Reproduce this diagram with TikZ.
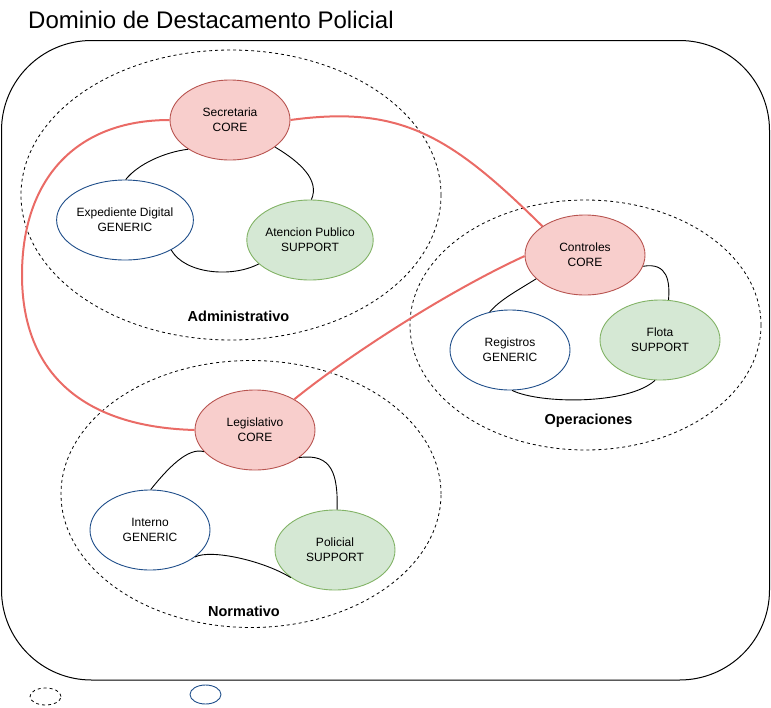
\documentclass[tikz,border=0pt]{standalone}
\usepackage{fontspec}
\setmainfont{Liberation Sans}
\usetikzlibrary{shapes.geometric}
\definecolor{corefill}{HTML}{F8CECC}
\definecolor{coredraw}{HTML}{B85450}
\definecolor{supfill}{HTML}{D5E8D4}
\definecolor{supdraw}{HTML}{82B366}
\definecolor{gendraw}{HTML}{1F4E8A}
\definecolor{redline}{HTML}{EA6B66}
\tikzset{
  bc/.style={ellipse, inner sep=0pt, minimum width=120pt, minimum height=80pt, align=center,
    font=\fontsize{12}{14.6}\selectfont, line width=0.9pt},
  corebc/.style={bc, draw=coredraw, fill=corefill},
  supbc/.style={bc, draw=supdraw, fill=supfill},
  genbc/.style={bc, draw=gendraw, fill=white},
  grp/.style={ellipse, draw=black, line width=0.8pt, dash pattern=on 3pt off 3pt, inner sep=0pt},
  grplbl/.style={font=\bfseries\fontsize{14.5}{17}\selectfont},
  rel/.style={draw=black, line width=0.9pt},
  ctx/.style={draw=redline, line width=2pt},
}
\begin{document}
\begin{tikzpicture}[x=1pt,y=-1pt]
\useasboundingbox (0,0) rectangle (771,707);
% domain container
\node[draw=black, line width=1pt, rounded corners=90pt, minimum width=768pt, minimum height=639.5pt, inner sep=0pt] (dom) at (385.5,360.25) {};
\node[anchor=base west, font=\fontsize{24}{28}\selectfont, inner sep=0pt] (title) at (28,28) {Dominio de Destacamento Policial};
% groups
\node[grp, minimum width=420pt, minimum height=290pt] (adm) at (231,195) {};
\node[grp, minimum width=351pt, minimum height=250pt] (ope) at (585.5,325) {};
\node[grp, minimum width=380pt, minimum height=267pt] (nor) at (251,494) {};
\node[grplbl] (admlbl) at (238.5,316) {Administrativo};
\node[grplbl] (opelbl) at (588.5,421) {Operaciones};
\node[grplbl] (norlbl) at (244,611) {Normativo};
% bounded contexts
\node[corebc] (sec) at (230,120) {Secretaria\\CORE};
\node[genbc] (exp) at (125,220) {Expediente Digital\\GENERIC};
\node[supbc] (ate) at (310,240) {Atencion Publico\\SUPPORT};
\node[corebc] (con) at (585,255) {Controles\\CORE};
\node[genbc] (reg) at (510,350) {Registros\\GENERIC};
\node[supbc] (flo) at (660,340) {Flota\\SUPPORT};
\node[corebc] (leg) at (255,430) {Legislativo\\CORE};
\node[genbc] (int) at (150,530) {Interno\\GENERIC};
\node[supbc] (pol) at (335,550) {Policial\\SUPPORT};
% legend
\node[grp, minimum width=31pt, minimum height=17pt] (lgA) at (45.5,696.5) {};
\node[ellipse, draw=gendraw, line width=0.9pt, inner sep=0pt, minimum width=31pt, minimum height=19pt] (lgB) at (205.5,694.5) {};
% relations inside groups
\draw[rel] (sec.215) .. controls (165,152) and (138,164) .. (exp.89);
\draw[rel] (sec.329) .. controls (300,162) and (320,180) .. (ate.88);
\draw[rel] (exp.327) .. controls (185,274) and (232,278) .. (ate.205);
\draw[rel] (con.206) .. controls (515,292) and (500,300) .. (reg.118);
\draw[rel] (con.349) .. controls (668,262) and (670,282) .. (flo.78);
\draw[rel] (reg.273) .. controls (540,404) and (628,405) .. (flo.263);
\draw[rel] (leg.203) .. controls (188,447) and (168,468) .. (int.89);
\draw[rel] (leg.328) .. controls (332,453) and (338,474) .. (pol.87);
\draw[rel] (int.329) .. controls (210,549) and (262,560) .. (pol.212);
% context map links
\draw[ctx] (sec.180) .. controls (75,120) and (22,180) .. (22,275)
           .. controls (22,375) and (85,427) .. (leg.180);
\draw[ctx] (sec.0) .. controls (400,105) and (450,135) .. (con.146);
\draw[ctx] (leg.38) .. controls (340,362) and (440,295) .. (con.181);
\end{tikzpicture}
\end{document}
